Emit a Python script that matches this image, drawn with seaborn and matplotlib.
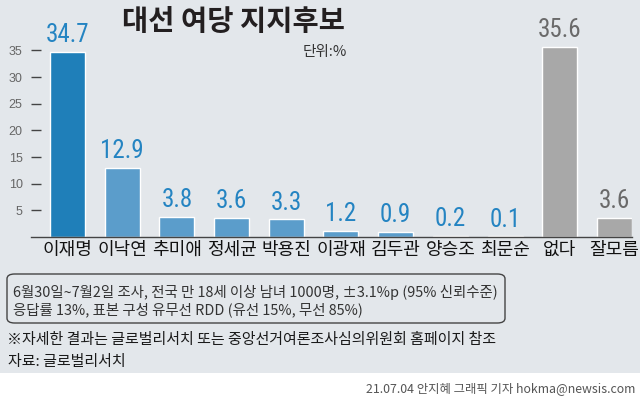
import matplotlib
matplotlib.use("Agg")
import matplotlib.pyplot as plt
from matplotlib import font_manager
from matplotlib.patches import FancyBboxPatch, Rectangle
import seaborn as sns
import pandas as pd

# ---- data ----
categories = ["이재명", "이낙연", "추미애", "정세균", "박용진", "이광재", "김두관", "양승조", "최문순", "없다", "잘모름"]
values = [34.7, 12.9, 3.8, 3.6, 3.3, 1.2, 0.9, 0.2, 0.1, 35.6, 3.6]
value_labels = ["34.7", "12.9", "3.8", "3.6", "3.3", "1.2", "0.9", "0.2", "0.1", "35.6", "3.6"]
yticks = [5, 10, 15, 20, 25, 30, 35]

title = "대선 여당 지지후보"
unit = "단위:%"
note1 = "6월30일~7월2일 조사, 전국 만 18세 이상 남녀 1000명, ±3.1%p (95% 신뢰수준)"
note2 = "응답률 13%, 표본 구성 유무선 RDD (유선 15%, 무선 85%)"
foot1 = "※자세한 결과는 글로벌리서치 또는 중앙선거여론조사심의위원회 홈페이지 참조"
foot2 = "자료: 글로벌리서치"
credit = "21.07.04 안지혜 그래픽 기자 hokma@newsis.com"

# ---- style ----
sns.set_theme(style="white")
KR = "Noto Sans CJK KR"
plt.rcParams["font.family"] = [KR, "DejaVu Sans"]

def pick(names):
    for n in names:
        try:
            font_manager.findfont(n, fallback_to_default=False)
            return n
        except Exception:
            pass
    return "DejaVu Sans"

NUM = pick(["Liberation Sans Narrow", "Roboto Condensed", "DejaVu Sans Condensed", "Roboto"])

BG = "#e3e7eb"
DARK_BLUE = "#1f7fb9"
BLUE = "#5b9dcb"
GRAY = "#a8a8a8"
colors = [DARK_BLUE] + [BLUE] * 8 + [GRAY] * 2
label_colors = ["#2484c2"] * 9 + ["#6a6a6a"] * 2

W, H = 640, 398
fig = plt.figure(figsize=(W / 100, H / 100), dpi=100)
fig.patch.set_facecolor("white")
fig.patches.append(Rectangle((0, 25 / H), 1, 1 - 25 / H, transform=fig.transFigure,
                             facecolor=BG, edgecolor="none", zorder=-10))

# axes in pixel geometry
left_px, right_px, bottom_px, top_px = 31, 632, 237, 15
ax = fig.add_axes([left_px / W, 1 - bottom_px / H, (right_px - left_px) / W, (bottom_px - top_px) / H])
ax.set_facecolor("none")
ax.set_zorder(5)

df = pd.DataFrame({"cat": categories, "val": values})
sns.barplot(data=df, x="cat", y="val", hue="cat", palette=colors, legend=False,
            width=0.64, saturation=1, ax=ax)

ppu = 5.33  # px per unit
ax.set_ylim(0, (bottom_px - top_px) / ppu)
ax.set_xlim(-0.667, 10.32)

for i, (v, lab) in enumerate(zip(values, value_labels)):
    ax.annotate(lab, (i, v), xytext=(0, 3.5), textcoords="offset points",
                ha="center", va="bottom", fontsize=18, color=label_colors[i],
                family=NUM)

ax.set_yticks(yticks)
ax.set_yticklabels([str(t) for t in yticks], family="Liberation Sans", fontsize=9, color="#666666")
ax.tick_params(axis="y", direction="in", length=7.5, width=1, color="#444444", pad=6, left=True)
ax.tick_params(axis="x", length=0, pad=3)
ax.set_xticks(range(len(categories)))
ax.set_xticklabels(categories, fontsize=13, fontweight="medium", color="#111111", family=[KR])
ax.set_xlabel("")
ax.set_ylabel("")
for s in ["top", "right", "left"]:
    ax.spines[s].set_visible(False)
ax.spines["bottom"].set_color("#444444")
ax.spines["bottom"].set_linewidth(1.0)
ax.spines["bottom"].set_zorder(3)

def fx(px):
    return px / W

def fy(py):
    return 1 - py / H

fig.text(fx(234), fy(22), title, ha="center", va="center", fontsize=20.5, fontweight="bold",
         color="#231f20", family=[KR])
fig.text(fx(347), fy(52), unit, ha="right", va="center", fontsize=10.5, color="#333333", family=[KR])

box = FancyBboxPatch((fx(7), fy(323)), fx(505) - fx(7), fy(274) - fy(323),
                     boxstyle="round,pad=0,rounding_size=0.012", transform=fig.transFigure,
                     facecolor="none", edgecolor="#444444", linewidth=1.0)
fig.patches.append(box)
fig.text(fx(13), fy(292), note1, ha="left", va="center", fontsize=10.4, color="#333333", family=[KR, "DejaVu Sans"])
fig.text(fx(13), fy(310), note2, ha="left", va="center", fontsize=10.4, color="#333333", family=[KR, "DejaVu Sans"])
fig.text(fx(7), fy(340), foot1, ha="left", va="center", fontsize=10.8, color="#1a1a1a", family=[KR, "DejaVu Sans"])
fig.text(fx(8), fy(362), foot2, ha="left", va="center", fontsize=10.8, color="#1a1a1a", family=[KR])
fig.text(fx(635), fy(389), credit, ha="right", va="center", fontsize=8.9, color="#555555", family=[KR])

fig.savefig("out.png", dpi=100)
